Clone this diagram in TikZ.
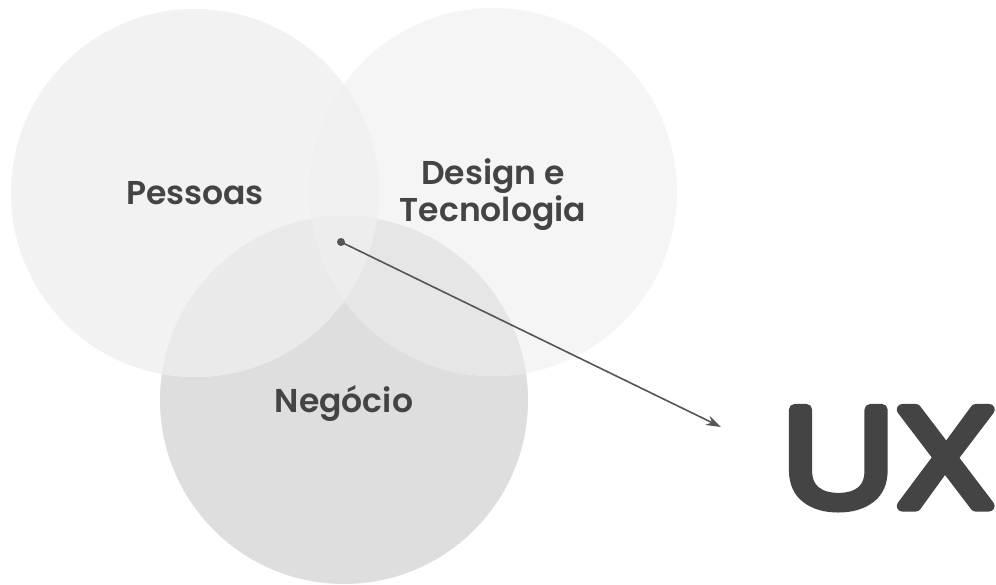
\documentclass[tikz,border=0pt]{standalone}
\usepackage{fontspec}
\setmainfont{Poppins}[BoldFont=Poppins SemiBold]
\newfontfamily\uxfont{Poppins Light}[FakeBold=8,FakeStretch=1.25]
\usetikzlibrary{arrows.meta}
\definecolor{cP}{HTML}{F2F2F2}
\definecolor{cD}{HTML}{F5F5F5}
\definecolor{cN}{HTML}{DEDEDE}
\definecolor{cPD}{HTML}{F0F0F0}
\definecolor{cPN}{HTML}{EAEAEA}
\definecolor{cDN}{HTML}{E6E6E6}
\definecolor{cPDN}{HTML}{EDEDED}
\definecolor{txt}{HTML}{444444}
\definecolor{arr}{HTML}{555555}
\tikzset{
  lbl/.style={font=\bfseries\fontsize{33}{37}\selectfont, text=txt, align=center, inner sep=0pt},
  pointer/.style={draw=arr, line width=1.6pt, -{Stealth[length=15pt,width=10pt]}},
  dotmark/.style={circle, fill=arr, minimum size=8pt, inner sep=0pt}
}
\begin{document}
\begin{tikzpicture}[x=1pt,y=-1pt]
\useasboundingbox (0,0) rectangle (996,585);
\fill[white] (0,0) rectangle (996,585);
\def\cP{(195,193) circle[radius=184]}
\def\cD{(493,192) circle[radius=184]}
\def\cN{(344,400) circle[radius=184]}
\fill[cN] \cN;
\fill[cD] \cD;
\fill[cP] \cP;
\begin{scope}\clip \cP; \fill[cPD] \cD; \end{scope}
\begin{scope}\clip \cP; \fill[cPN] \cN; \end{scope}
\begin{scope}\clip \cD; \fill[cDN] \cN; \end{scope}
\begin{scope}\clip \cP; \clip \cD; \fill[cPDN] \cN; \end{scope}
\node[lbl, anchor=base] (pessoas) at (195,205) {Pessoas};
\node[lbl, anchor=base] (design) at (493,185) {Design e};
\node[lbl, anchor=base] (tecno) at (493,222) {Tecnologia};
\node[lbl, anchor=base] (negocio) at (344,412) {Negócio};
\node[anchor=base west, inner sep=0pt, text=txt, font=\uxfont\fontsize{138}{138}\selectfont] (ux) at (781,506) {\special{pdf:literal direct 1 j 1 J}UX};
\node[dotmark] (dot) at (341,242) {};
\coordinate (tip) at (721,427);
\draw[pointer] (dot.center) -- (tip);
\end{tikzpicture}
\end{document}
